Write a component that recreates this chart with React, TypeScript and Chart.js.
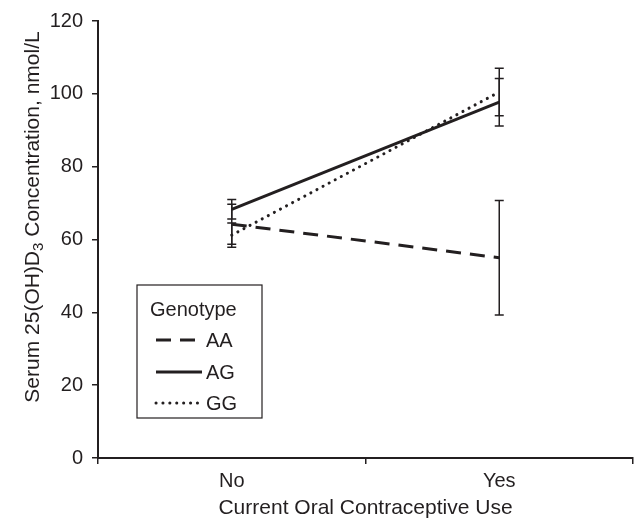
import React, { useEffect, useRef } from "react";
import { Chart, registerables } from "chart.js";

Chart.register(...registerables);

const categories = ["No", "Yes"];
const seriesNames = ["AA", "AG", "GG"];
const aaValues = [64.2, 55.0];
const agValues = [68.3, 97.7];
const ggValues = [61.2, 100.5];
const aaErrors = [5.5, 15.7];
const agErrors = [2.7, 6.5];
const ggErrors = [3.3, 6.5];
const yMin = 0;
const yMax = 120;
const yStep = 20;
const xTitle = "Current Oral Contraceptive Use";
const yTitleMain = "Serum 25(OH)D";
const yTitleSub = "3";
const yTitleRest = " Concentration, nmol/L";
const legendTitle = "Genotype";

const INK = "#231f20";
const FONT = "'Liberation Sans', Arial, Helvetica, sans-serif";
const FS = 20;
const TFS = 21;

const errorsByDataset = [aaErrors, agErrors, ggErrors];

const errorBarPlugin = {
  id: "errorBars",
  afterDatasetsDraw(chart: any) {
    const ctx = chart.ctx;
    const yScale = chart.scales.y;
    ctx.save();
    ctx.strokeStyle = INK;
    ctx.lineWidth = 1.5;
    ctx.setLineDash([]);
    chart.data.datasets.forEach((ds: any, i: number) => {
      const meta = chart.getDatasetMeta(i);
      const errs = errorsByDataset[i];
      meta.data.forEach((el: any, j: number) => {
        const v = ds.data[j];
        const e = errs[j];
        const x = el.x;
        const yTop = yScale.getPixelForValue(v + e);
        const yBot = yScale.getPixelForValue(v - e);
        ctx.beginPath();
        ctx.moveTo(x, yTop);
        ctx.lineTo(x, yBot);
        ctx.moveTo(x - 4.5, yTop);
        ctx.lineTo(x + 4.5, yTop);
        ctx.moveTo(x - 4.5, yBot);
        ctx.lineTo(x + 4.5, yBot);
        ctx.stroke();
      });
    });
    ctx.restore();
  },
};

const textPlugin = {
  id: "customText",
  afterDraw(chart: any) {
    const ctx = chart.ctx;
    const area = chart.chartArea;
    ctx.save();
    ctx.fillStyle = INK;
    // x title
    ctx.font = `${TFS}px ${FONT}`;
    ctx.textAlign = "center";
    ctx.textBaseline = "middle";
    ctx.fillText(xTitle, (area.left + area.right) / 2, 508);

    // y title with subscript
    const subFont = `${Math.round(TFS * 0.7)}px ${FONT}`;
    const mainFont = `${TFS}px ${FONT}`;
    ctx.font = mainFont;
    const w1 = ctx.measureText(yTitleMain).width;
    const w3 = ctx.measureText(yTitleRest).width;
    ctx.font = subFont;
    const w2 = ctx.measureText(yTitleSub).width;
    const total = w1 + w2 + w3;
    ctx.translate(33, 217);
    ctx.rotate(-Math.PI / 2);
    ctx.textAlign = "left";
    ctx.textBaseline = "middle";
    let cx = -total / 2;
    ctx.font = mainFont;
    ctx.fillText(yTitleMain, cx, 0);
    cx += w1;
    ctx.font = subFont;
    ctx.fillText(yTitleSub, cx, 6);
    cx += w2;
    ctx.font = mainFont;
    ctx.fillText(yTitleRest, cx, 0);
    ctx.restore();

    // legend
    ctx.save();
    const bx = 137, by = 285, bw = 125, bh = 133;
    ctx.fillStyle = "#ffffff";
    ctx.fillRect(bx, by, bw, bh);
    ctx.strokeStyle = INK;
    ctx.lineWidth = 1.2;
    ctx.strokeRect(bx, by, bw, bh);
    ctx.fillStyle = INK;
    ctx.font = `${FS}px ${FONT}`;
    ctx.textAlign = "left";
    ctx.textBaseline = "middle";
    ctx.fillText(legendTitle, 150, 310);
    const rows = [340, 372, 403];
    chart.data.datasets.forEach((ds: any, i: number) => {
      const y = rows[i];
      ctx.save();
      ctx.strokeStyle = ds.borderColor;
      ctx.lineWidth = ds.borderWidth;
      ctx.lineCap = ds.borderCapStyle || "butt";
      ctx.setLineDash(ds.borderDash || []);
      ctx.beginPath();
      ctx.moveTo(156, y);
      ctx.lineTo(202, y);
      ctx.stroke();
      ctx.restore();
      ctx.fillText(ds.label, 206, y + 1);
    });
    ctx.restore();
  },
};

export default function App() {
  const ref = useRef<HTMLCanvasElement | null>(null);
  useEffect(() => {
    if (!ref.current) return;
    const chart = new Chart(ref.current, {
      type: "line",
      data: {
        labels: categories,
        datasets: [
          {
            label: seriesNames[0],
            data: aaValues,
            borderColor: INK,
            borderWidth: 3,
            borderDash: [15, 9],
            pointRadius: 0,
            fill: false,
          },
          {
            label: seriesNames[1],
            data: agValues,
            borderColor: INK,
            borderWidth: 3,
            pointRadius: 0,
            fill: false,
          },
          {
            label: seriesNames[2],
            data: ggValues,
            borderColor: INK,
            borderWidth: 3,
            borderDash: [0.1, 6.8],
            borderCapStyle: "round",
            pointRadius: 0,
            fill: false,
          },
        ],
      },
      options: {
        responsive: false,
        animation: false,
        layout: { padding: { top: 21, right: 6, left: 0, bottom: 0 } },
        plugins: {
          legend: { display: false },
          tooltip: { enabled: false },
        },
        scales: {
          x: {
            offset: true,
            grid: {
              offset: true,
              drawOnChartArea: false,
              drawTicks: true,
              tickLength: 6,
              color: INK,
              lineWidth: 1.5,
            },
            border: { display: true, color: INK, width: 2 },
            ticks: {
              color: INK,
              font: { family: FONT, size: FS },
              padding: 5,
              maxRotation: 0,
            },
            afterFit: (scale: any) => {
              scale.height = 65;
            },
          },
          y: {
            min: yMin,
            max: yMax,
            grid: {
              drawOnChartArea: false,
              drawTicks: true,
              tickLength: 6,
              color: INK,
              lineWidth: 1.5,
            },
            border: { display: true, color: INK, width: 2 },
            ticks: {
              stepSize: yStep,
              color: INK,
              font: { family: FONT, size: FS },
              padding: 9,
            },
            afterFit: (scale: any) => {
              scale.width = 98;
            },
          },
        },
      },
      plugins: [errorBarPlugin, textPlugin],
    });
    return () => chart.destroy();
  }, []);
  return (
    <div style={{ position: "absolute", left: 0, top: 0, width: 639, height: 523, background: "#fff" }}>
      <canvas ref={ref} width={639} height={523} style={{ display: "block" }} />
    </div>
  );
}
